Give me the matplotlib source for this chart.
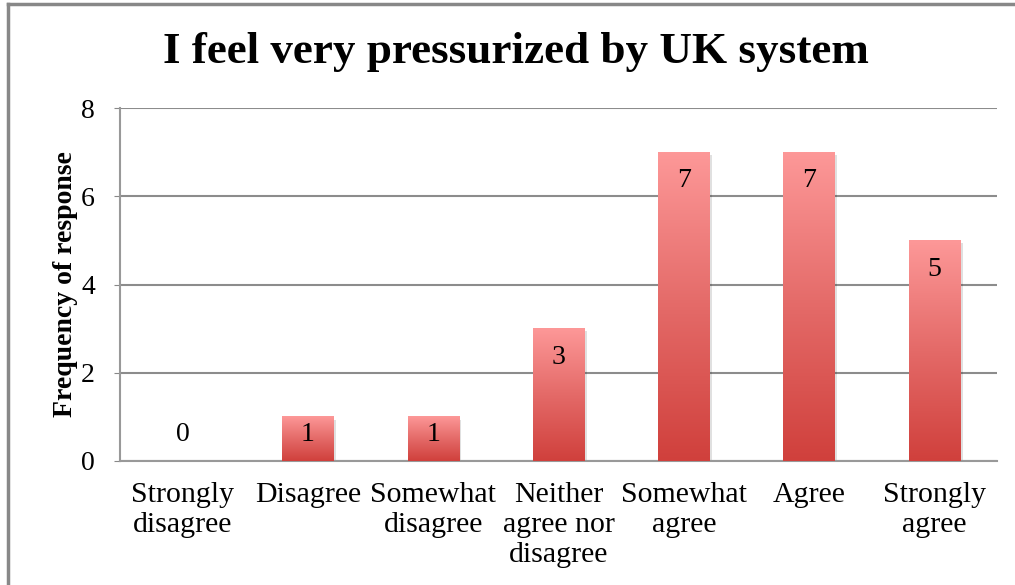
import numpy as np
import matplotlib.pyplot as plt
from matplotlib.colors import LinearSegmentedColormap
from matplotlib.patches import Rectangle
from matplotlib.lines import Line2D

categories = ["Strongly\ndisagree", "Disagree", "Somewhat\ndisagree",
              "Neither\nagree nor\ndisagree", "Somewhat\nagree", "Agree",
              "Strongly\nagree"]
counts = [0, 1, 1, 3, 7, 7, 5]
yticks = [0, 2, 4, 6, 8]

plt.rcParams['font.family'] = ['Liberation Serif', 'DejaVu Serif']

fig = plt.figure(figsize=(10.15, 5.85), dpi=100)
ax = fig.add_axes([120 / 1015, 1 - 461 / 585, 877 / 1015, 353 / 585])

# outer chart frame (left and top edges only)
fig.add_artist(Line2D([8 / 1015, 8 / 1015], [0, 1 - 4 / 585],
                      transform=fig.transFigure, color='#888888', lw=2.5))
fig.add_artist(Line2D([8 / 1015, 1013 / 1015], [1 - 4 / 585, 1 - 4 / 585],
                      transform=fig.transFigure, color='#888888', lw=2.5))

grad = LinearSegmentedColormap.from_list('bar', ['#d0403c', '#e46a68', '#fd9898'])
gimg = np.linspace(0, 1, 256).reshape(-1, 1)

x = np.arange(len(categories))
width = 0.41
ax.set_xlim(-0.5, len(categories) - 0.5)
ax.set_ylim(0, 8)

for xi, v in zip(x, counts):
    if v > 0:
        # soft drop shadow
        ax.add_patch(Rectangle((xi - width / 2 + 0.02, -0.06), width, v,
                               facecolor='#000000', alpha=0.12, lw=0, zorder=2))
        ax.imshow(gimg, cmap=grad, origin='lower', aspect='auto',
                  extent=(xi - width / 2, xi + width / 2, 0, v), zorder=3)
    ax.text(xi, max(v - 0.65, 0.6), str(v), ha='center', va='center',
            fontsize=20, color='black', zorder=4)

ax.set_xlim(-0.5, len(categories) - 0.5)
ax.set_ylim(0, 8)
ax.set_yticks(yticks)
ax.set_yticklabels([str(t) for t in yticks], fontsize=20)
ax.set_xticks(x)
ax.set_xticklabels(categories, fontsize=21.5, linespacing=1.2)
ax.tick_params(axis='x', length=0, pad=15)
ax.tick_params(axis='y', length=4, color='#888888', pad=14)
ax.grid(axis='y', color='#8c8c8c', lw=1.5, zorder=1)
ax.set_axisbelow(True)
for s in ['top', 'right']:
    ax.spines[s].set_visible(False)
for s in ['left', 'bottom']:
    ax.spines[s].set_color('#999999')
    ax.spines[s].set_linewidth(1.5)

ax.set_ylabel('Frequency of response', fontsize=20, fontweight='bold', labelpad=2)
fig.text(516 / 1015, 1 - 52 / 585, 'I feel very pressurized by UK system',
         ha='center', va='center', fontsize=32.5, fontweight='bold')

fig.savefig('out.png', dpi=100, facecolor='white')
